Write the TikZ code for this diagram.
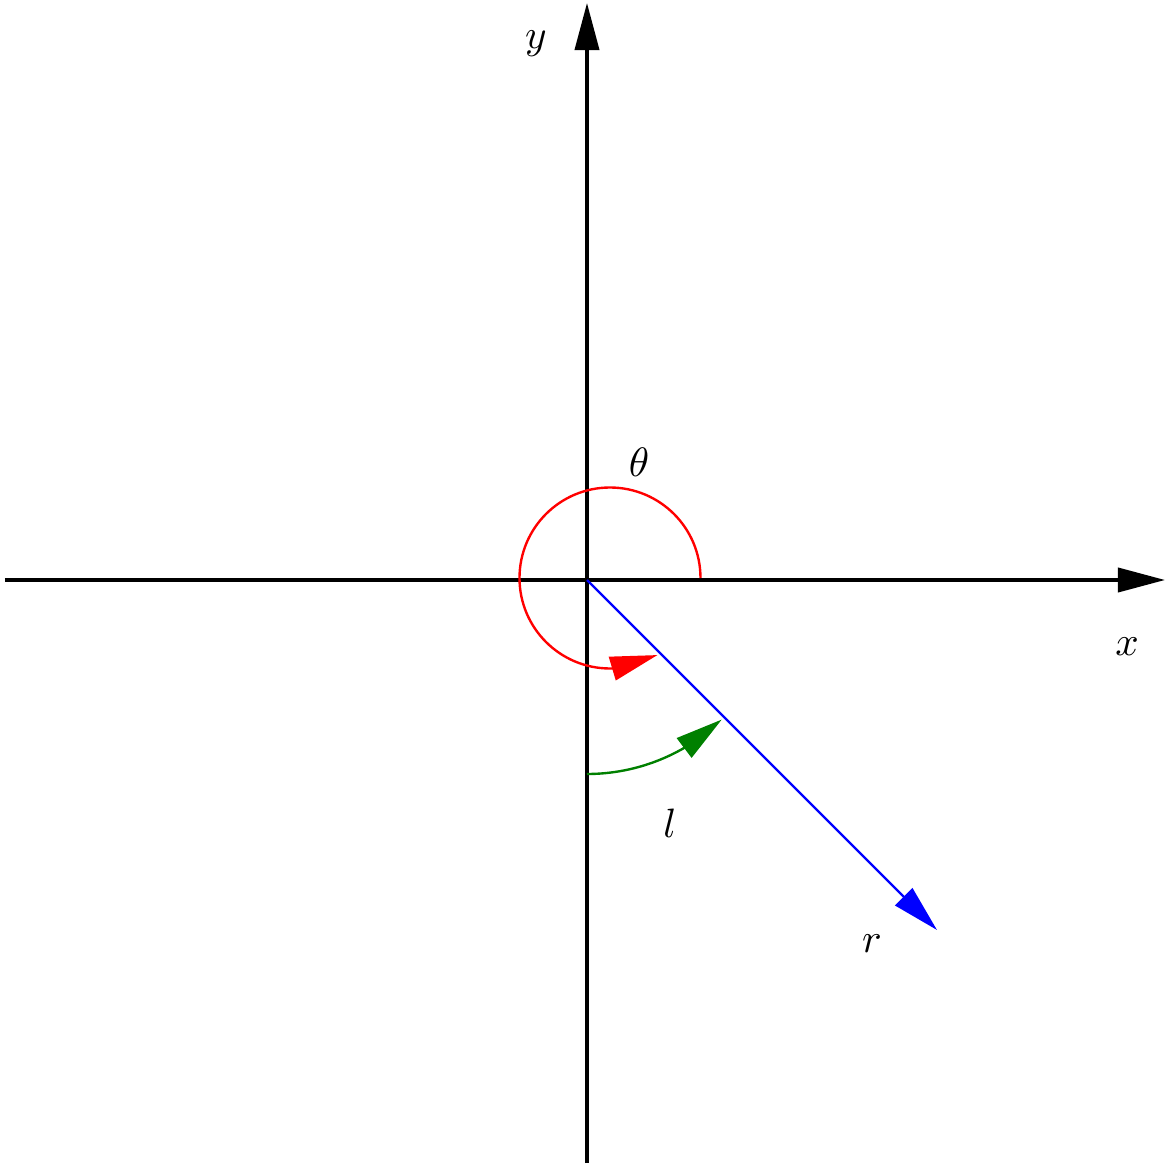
\documentclass[tikz,border=0pt]{standalone}
\usetikzlibrary{arrows.meta,bending}
\definecolor{asygreen}{RGB}{0,128,0}
\begin{document}
\begin{tikzpicture}[x=0.24379pt,y=0.24379pt,
  axis/.style={line width=0.85pt,-{Triangle[length=11.5pt,width=5.9pt]}},
  ray/.style={line width=0.58pt,-{Triangle[length=11.5pt,width=5.9pt]}},
  arcarrow/.style={line width=0.58pt,-{Triangle[length=11.5pt,width=5.9pt,flex]}},
  lab/.style={inner sep=0pt}]
\useasboundingbox (-587,-587) rectangle (580,580);
\coordinate (O) at (0,0);
\coordinate (xl) at (-582,0);
\coordinate (xr) at (578,0);
\coordinate (yb) at (0,-583);
\coordinate (yt) at (0,577);
\coordinate (rt) at (350,-350);
\coordinate (rs) at (113.5,2);
\coordinate (gs) at (0,-194);
\draw[axis] (xl) -- (xr);
\draw[axis] (yb) -- (yt);
\draw[ray,blue] (O) -- (rt);
\draw[arcarrow,red] (rs) arc[start angle=0,end angle=301.6,radius=90.5];
\draw[arcarrow,asygreen] (gs) arc[start angle=-90,end angle=-46,radius=194];
\node[lab] (ylab) at (-51,536) {$y$};
\node[lab] (xlab) at (540,-67) {$x$};
\node[lab] (thlab) at (52,118) {$\theta$};
\node[lab] (llab) at (83,-243) {$l$};
\node[lab] (rlab) at (285,-364) {$r$};
\end{tikzpicture}
\end{document}
